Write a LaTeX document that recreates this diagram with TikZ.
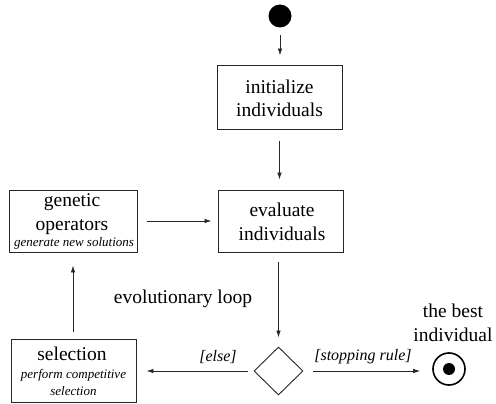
\documentclass[tikz,border=0pt]{standalone}
\usepackage{fontspec}
\setmainfont{LiberationSerif}[Extension=.ttf,UprightFont=*-Regular,ItalicFont=*-Italic,BoldFont=*-Bold]
\usetikzlibrary{shapes.geometric,arrows.meta}
\begin{document}
\begin{tikzpicture}[x=1pt,y=-1pt,
  box/.style={draw=black!85,line width=0.9pt,inner sep=0pt},
  conn/.style={draw=black!85,line width=0.8pt,-{Latex[length=7pt,width=4.5pt]}},
  big/.style={font=\fontsize{19.5}{23}\selectfont,inner sep=0pt},
  small/.style={font=\fontsize{13}{16}\selectfont\itshape,inner sep=0pt},
  lab/.style={font=\fontsize{16}{19}\selectfont\itshape,inner sep=0pt}]
\useasboundingbox (0,0) rectangle (496,404);
% nodes
\node[circle,fill=black,minimum size=23pt,inner sep=0pt] (start) at (280,16) {};
\node[box,minimum width=125pt,minimum height=64pt] (init) at (279.5,97) {};
\node[big] (initT1) at (279.5,87) {initialize};
\node[big] (initT2) at (279.5,110) {individuals};
\node[box,minimum width=125pt,minimum height=62pt] (eval) at (280.5,221) {};
\node[big] (evalT1) at (282,210) {evaluate};
\node[big] (evalT2) at (282,234) {individuals};
\node[box,minimum width=128pt,minimum height=62pt] (gen) at (73,221) {};
\node[big] (genT1) at (72,202) {genetic};
\node[big] (genT2) at (72,227) {operators};
\node[small] (genT3) at (74,243) {generate new solutions};
\node[box,minimum width=125pt,minimum height=63pt] (sel) at (73.5,370.5) {};
\node[big] (selT1) at (72,354) {selection};
\node[small] (selT2) at (73.5,375) {perform competitive};
\node[small] (selT3) at (73.5,391) {selection};
\node[diamond,draw=black!85,line width=0.9pt,minimum width=49pt,minimum height=48pt,inner sep=0pt] (dec) at (278.5,371) {};
\node[circle,draw=black,line width=1.6pt,minimum size=32pt,inner sep=0pt] (end) at (449,369) {};
\node[circle,fill=black,minimum size=12pt,inner sep=0pt] (endin) at (449,369) {};
\node[big] (best1) at (453,311) {the best};
\node[big] (best2) at (453,335) {individual};
\node[big] (loop) at (183,299) {evolutionary loop};
\node[lab] (else) at (218,357) {[else]};
\node[lab] (stop) at (363,357) {[stopping rule]};
% connectors
\draw[conn,shorten <=7.5pt,shorten >=9pt] (start.south) -- (start.south |- init.north);
\draw[conn,shorten <=12pt,shorten >=10pt] (init.south) -- (init.south |- eval.north);
\draw[conn,shorten <=10pt,shorten >=6pt] (gen.east) -- (eval.west);
\draw[conn,shorten <=10pt,shorten >=9pt] (dec.north |- eval.south) -- (dec.north);
\draw[conn,shorten <=7pt,shorten >=13pt] (sel.north -| gen.south) -- (gen.south);
\draw[conn,shorten <=6pt,shorten >=10pt] (dec.west) -- (dec.west -| sel.east);
\draw[conn,shorten <=10pt,shorten >=12pt] (dec.east) -- (end.west |- dec.east);
\end{tikzpicture}
\end{document}
